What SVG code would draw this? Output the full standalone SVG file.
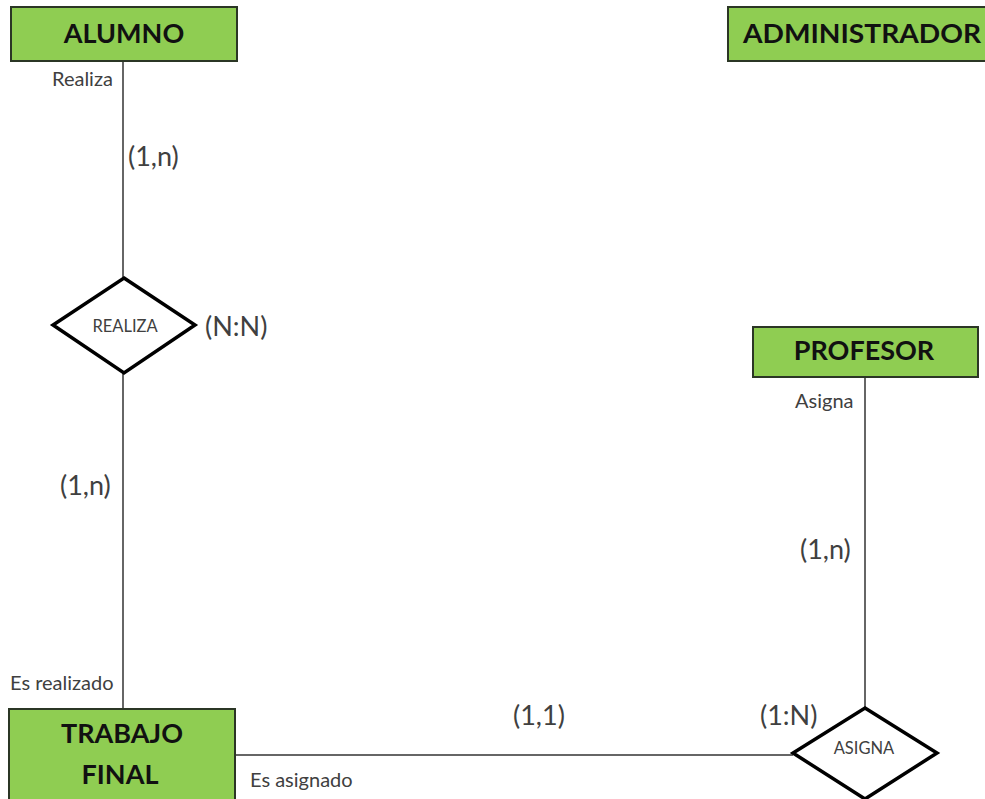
<svg xmlns="http://www.w3.org/2000/svg" width="985" height="799" viewBox="0 0 985 799">
<style>
.ent{fill:#8fcd52;stroke:#2b3625;stroke-width:2}
.et{font-family:Lato,"Liberation Sans",sans-serif;font-weight:bold;font-size:27px;fill:#111;text-anchor:middle}
.rel{fill:#fff;stroke:#000;stroke-width:3.5;stroke-linejoin:miter}
.rt{font-family:Lato,"Liberation Sans",sans-serif;font-size:16.5px;fill:#404040;text-anchor:middle}
.lbl{font-family:Lato,"Liberation Sans",sans-serif;font-size:20px;fill:#404040}
.card{font-family:Lato,"Liberation Sans",sans-serif;font-size:27px;fill:#404040}
.con{stroke:#333;stroke-width:1.5;fill:none}
</style>
<rect width="985" height="799" fill="#fff"/>
<g id="connectors">
<line class="con" x1="123" y1="61" x2="123" y2="278"/>
<line class="con" x1="123" y1="373" x2="123" y2="709"/>
<line class="con" x1="865" y1="377" x2="865" y2="708"/>
<polyline class="con" points="235,755 793,755"/>
</g>
<g id="alumno">
<rect class="ent" x="11" y="7" width="226" height="54"/>
<text class="et" x="124" y="43">ALUMNO</text>
</g>
<g id="administrador">
<rect class="ent" x="728" y="7" width="262" height="54"/>
<text class="et" x="862" y="43" textLength="238" lengthAdjust="spacingAndGlyphs">ADMINISTRADOR</text>
</g>
<g id="profesor">
<rect class="ent" x="753" y="327" width="225" height="50"/>
<text class="et" x="864" y="360">PROFESOR</text>
</g>
<g id="trabajo">
<rect class="ent" x="9" y="709" width="226" height="95"/>
<text class="et" x="122" y="743">TRABAJO</text>
<text class="et" x="120" y="784">FINAL</text>
</g>
<g id="realiza">
<polygon class="rel" points="124,278 195,325 124,373 53,325"/>
<text class="rt" x="125" y="332">REALIZA</text>
</g>
<g id="asigna">
<polygon class="rel" points="865,708 937,753 865,799 793,753"/>
<text class="rt" x="864" y="754">ASIGNA</text>
</g>
<g id="labels">
<text class="lbl" x="52" y="86">Realiza</text>
<text class="card" x="128" y="166">(1,n)</text>
<text class="card" x="205" y="336">(N:N)</text>
<text class="card" x="60" y="495">(1,n)</text>
<text class="lbl" x="10" y="690">Es realizado</text>
<text class="lbl" x="250" y="787">Es asignado</text>
<text class="card" x="513" y="725">(1,1)</text>
<text class="lbl" x="795" y="408">Asigna</text>
<text class="card" x="800" y="559">(1,n)</text>
<text class="card" x="760" y="725">(1:N)</text>
</g>
</svg>
